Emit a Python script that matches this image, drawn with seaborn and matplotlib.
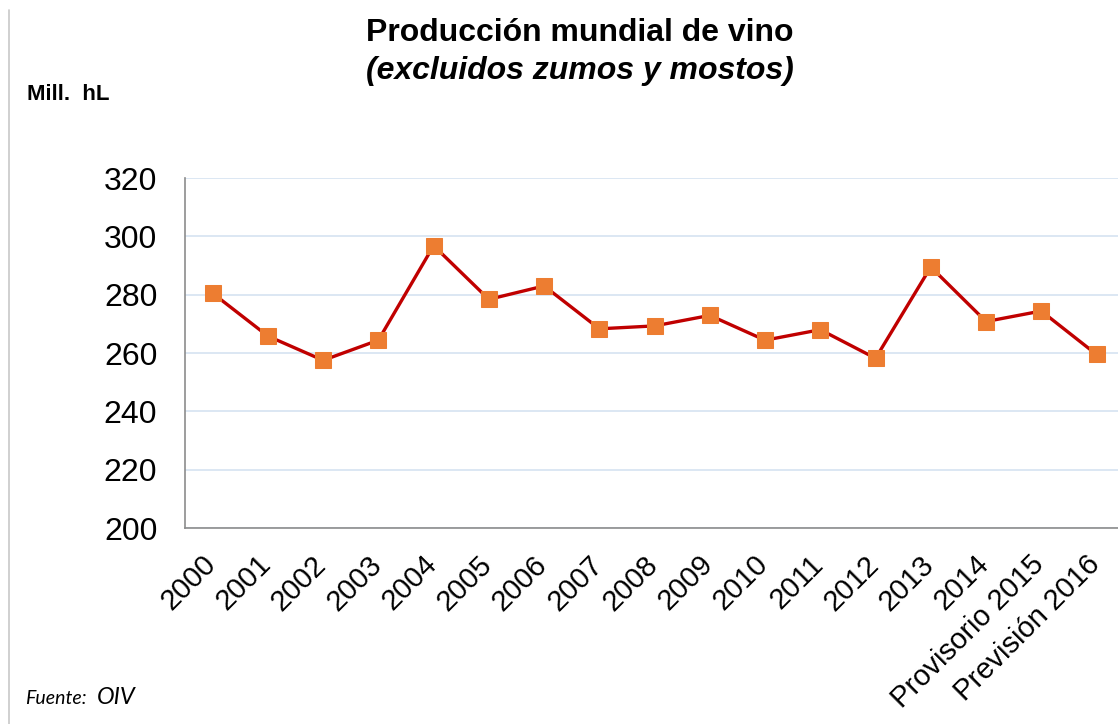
import numpy as np
import pandas as pd
import matplotlib
matplotlib.use("Agg")
import matplotlib.pyplot as plt
from matplotlib.lines import Line2D
from matplotlib.transforms import ScaledTranslation
import seaborn as sns

# Data (Mill. hL)
labels = ["2000", "2001", "2002", "2003", "2004", "2005", "2006", "2007", "2008",
          "2009", "2010", "2011", "2012", "2013", "2014", "Provisorio 2015", "Previsión 2016"]
production = [280.5, 265.8, 257.5, 264.4, 296.8, 278.4, 283.0, 268.3, 269.3,
              272.9, 264.4, 268.0, 258.2, 289.5, 270.8, 274.4, 259.5]
y_ticks = [200, 220, 240, 260, 280, 300, 320]

df = pd.DataFrame({"pos": np.arange(len(labels)), "label": labels, "value": production})

sns.set_style("white")
plt.rcParams["font.family"] = ["Liberation Sans", "DejaVu Sans"]
plt.rcParams["text.color"] = "black"

fig = plt.figure(figsize=(11.18, 7.24), dpi=100)
ax = fig.add_axes([0.1655, 0.2707, 0.840, 0.4834])

sns.lineplot(data=df, x="pos", y="value", ax=ax, color="#c00000", linewidth=2.4,
             marker="s", markersize=11, markerfacecolor="#ed7d31",
             markeredgecolor="#ed7d31", zorder=3)

ax.set_xlim(-0.5, len(labels) - 0.5)
ax.set_ylim(200, 320)
ax.set_yticks(y_ticks)
ax.set_yticklabels([str(v) for v in y_ticks], fontsize=23, color="black")
ax.set_xticks(df["pos"])
ax.set_xticklabels(labels, rotation=45, ha="right", rotation_mode="anchor",
                   fontsize=21, color="black")
ax.tick_params(axis="y", length=0, pad=20)
ax.tick_params(axis="x", length=0, pad=16)
shift = ScaledTranslation(-8 / 72, 0, fig.dpi_scale_trans)
for lab in ax.get_xticklabels():
    lab.set_transform(lab.get_transform() + shift)
ax.set_xlabel("")
ax.set_ylabel("")

ax.grid(axis="y", color="#d6e3f1", linewidth=1.2)
ax.set_axisbelow(True)
for side in ["top", "right"]:
    ax.spines[side].set_visible(False)
for side in ["left", "bottom"]:
    ax.spines[side].set_color("#8c8c8c")
    ax.spines[side].set_linewidth(1.2)

# Titles and labels
fig.text(0.519, 0.955, "Producción mundial de vino", ha="center", va="center",
         fontsize=23, fontweight="bold")
fig.text(0.519, 0.902, "(excluidos zumos y mostos)", ha="center", va="center",
         fontsize=23, fontweight="bold", style="italic")
fig.text(0.024, 0.869, "Mill.  hL", ha="left", va="center", fontsize=16, fontweight="bold")
fig.text(0.022, 0.035, "Fuente:", ha="left", va="center", fontsize=14, style="italic",
         family=["Lato", "DejaVu Sans"])
fig.text(0.087, 0.037, "OIV", ha="left", va="center", fontsize=17, style="italic",
         family=["Lato", "DejaVu Sans"])

# thin frame line on the left edge
fig.add_artist(Line2D([0.008, 0.008], [0.0, 0.986], color="#c8c8c8", linewidth=1.2))

fig.savefig("out.png", dpi=100)
